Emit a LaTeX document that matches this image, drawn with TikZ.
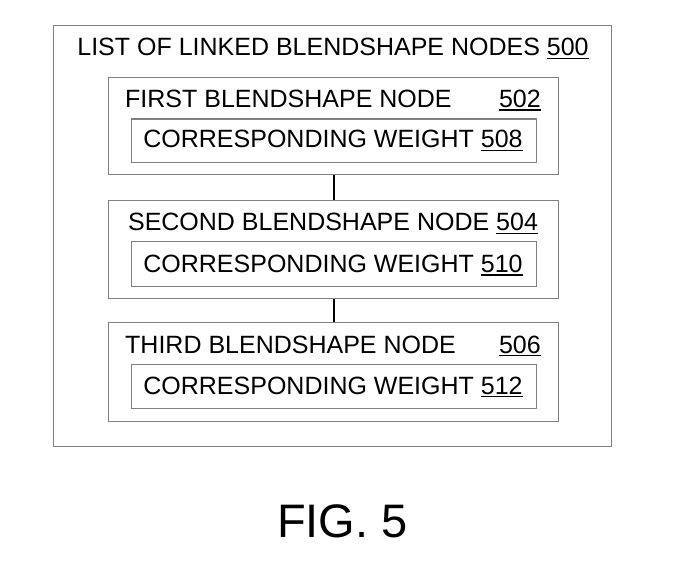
\documentclass[tikz,border=0pt]{standalone}
\usepackage{fontspec}
\setmainfont{Liberation Sans}
\newcommand\refnum[1]{\setbox0\hbox{#1}\rlap{\rule[-3.2pt]{\wd0}{1.4pt}}\box0}
\tikzset{
  frame/.style={draw=black!50, line width=1.1pt, anchor=north west, inner sep=0pt},
  lbl/.style={inner sep=0pt, font=\fontsize{25}{30}\selectfont, text=black},
  link/.style={draw=black, line width=1.6pt}
}
\begin{document}
\begin{tikzpicture}[x=1pt,y=-1pt]
\useasboundingbox (0,0) rectangle (685,585);
\node[frame, minimum width=558pt, minimum height=421.5pt] (outer) at (52.7,24.7) {};
\node[lbl, anchor=base] (t0) at (333,56) {LIST OF LINKED BLENDSHAPE NODES \refnum{500}};
% box 1
\node[frame, minimum width=450pt, minimum height=97pt] (b1) at (108.3,77.3) {};
\node[frame, minimum width=405pt, minimum height=43.5pt] (w1) at (130.7,118.5) {};
\node[lbl, anchor=base west] (t1) at (125,107.5) {FIRST BLENDSHAPE NODE};
\node[lbl, anchor=base east] (n1) at (541,107.5) {\refnum{502}};
\node[lbl, anchor=base] (u1) at (333,148) {CORRESPONDING WEIGHT \refnum{508}};
% box 2
\node[frame, minimum width=450pt, minimum height=98pt] (b2) at (108.3,200) {};
\node[frame, minimum width=405pt, minimum height=45pt] (w2) at (130.7,241) {};
\node[lbl, anchor=base] (t2) at (333,231) {SECOND BLENDSHAPE NODE \refnum{504}};
\node[lbl, anchor=base] (u2) at (333,272.5) {CORRESPONDING WEIGHT \refnum{510}};
% box 3
\node[frame, minimum width=450pt, minimum height=98.5pt] (b3) at (108.3,322) {};
\node[frame, minimum width=405pt, minimum height=44pt] (w3) at (130.7,364) {};
\node[lbl, anchor=base west] (t3) at (125,353) {THIRD BLENDSHAPE NODE};
\node[lbl, anchor=base east] (n3) at (541,353) {\refnum{506}};
\node[lbl, anchor=base] (u3) at (333,394) {CORRESPONDING WEIGHT \refnum{512}};
% connectors
\draw[link] (b1.south) -- (b2.north);
\draw[link] (b2.south) -- (b3.north);
% caption
\node[inner sep=0pt, anchor=base, font=\fontsize{47}{56}\selectfont] (fig) at (342.5,537) {FIG. 5};
\end{tikzpicture}
\end{document}
